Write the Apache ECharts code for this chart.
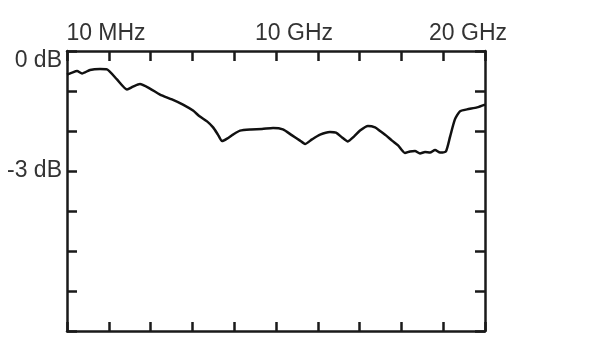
<!DOCTYPE html>
<html>
<head>
<meta charset="utf-8">
<script src="https://cdn.jsdelivr.net/npm/echarts@6/dist/echarts.min.js"></script>
<style>html,body{margin:0;padding:0;background:#fff;}#c{width:600px;height:350px;}</style>
</head>
<body>
<div id="c"></div>
<script>
// frequency in GHz (10 MHz ~ 0)
var freqGHz = [0, 0.24, 0.48, 0.72, 1.10, 1.58, 1.91, 2.39, 2.87, 3.16, 3.49, 3.97, 4.45, 5.02, 5.55, 6.03, 6.36, 6.70, 6.99, 7.22, 7.42, 7.66, 7.94, 8.28, 8.76, 9.33, 9.86, 10.33, 10.77, 11.15, 11.39, 11.72, 12.11, 12.58, 12.87, 13.16, 13.44, 13.73, 14.02, 14.40, 14.74, 14.98, 15.26, 15.55, 15.84, 16.17, 16.41, 16.65, 16.89, 17.13, 17.37, 17.61, 17.85, 18.13, 18.33, 18.56, 18.80, 19.14, 19.62, 20.0];
var gainDb = [-0.59, -0.54, -0.50, -0.56, -0.475, -0.45, -0.46, -0.71, -0.96, -0.89, -0.825, -0.94, -1.09, -1.21, -1.34, -1.49, -1.64, -1.76, -1.91, -2.09, -2.25, -2.19, -2.09, -1.99, -1.96, -1.95, -1.925, -1.96, -2.11, -2.24, -2.325, -2.21, -2.09, -2.025, -2.04, -2.16, -2.26, -2.14, -1.99, -1.875, -1.91, -2.00, -2.11, -2.24, -2.36, -2.55, -2.51, -2.50, -2.56, -2.525, -2.54, -2.475, -2.54, -2.51, -2.14, -1.71, -1.51, -1.46, -1.41, -1.34];
var xTickLabels = {0: '10 MHz', 10: '10 GHz', 20: '20 GHz'};
var yTickLabels = {'0': '0 dB', '-3': '-3 dB'};

var chart = echarts.init(document.getElementById('c'), null, {renderer: 'canvas'});
var frameColor = '#1a1a1a';
var lab = {color: '#333', fontFamily: 'Liberation Sans, Arial, sans-serif', fontSize: 23};
var pts = freqGHz.map(function (f, i) { return [f, gainDb[i]]; });

chart.setOption({
  animation: false,
  backgroundColor: '#fff',
  grid: {left: 67, top: 51, width: 418, height: 280, containLabel: false, outerBoundsMode: 'none'},
  xAxis: [{
    type: 'value', position: 'top', min: 0, max: 20, interval: 2,
    axisLine: {show: true, lineStyle: {color: frameColor, width: 2.5}},
    axisTick: {show: true, inside: true, length: 10, lineStyle: {color: frameColor, width: 2.5}},
    splitLine: {show: false},
    axisLabel: {
      show: true, margin: 6, showMinLabel: true, showMaxLabel: true, hideOverlap: false,
      formatter: function (v) {
        if (v === 0) return '{a|' + xTickLabels[0] + '}';
        if (v === 10) return '{b|' + xTickLabels[10] + '}';
        if (v === 20) return '{c|' + xTickLabels[20] + '}';
        return '';
      },
      rich: {
        a: Object.assign({padding: [0, 0, 0, 78]}, lab),
        b: Object.assign({padding: [0, 0, 0, 36]}, lab),
        c: Object.assign({padding: [0, 34, 0, 0]}, lab)
      }
    }
  }, {
    type: 'value', position: 'bottom', min: 0, max: 20, interval: 2,
    axisLine: {show: true, onZero: false, lineStyle: {color: frameColor, width: 2.5}},
    axisTick: {show: true, inside: true, length: 9, lineStyle: {color: frameColor, width: 2.5}},
    splitLine: {show: false},
    axisLabel: {show: false}
  }],
  yAxis: [{
    type: 'value', position: 'left', min: -7, max: 0, interval: 1,
    axisLine: {show: true, onZero: false, lineStyle: {color: frameColor, width: 2.5}},
    axisTick: {show: true, inside: true, length: 10, lineStyle: {color: frameColor, width: 2.5}},
    splitLine: {show: false},
    axisLabel: {
      show: true, margin: 5, showMinLabel: true, showMaxLabel: true,
      formatter: function (v) {
        if (v === 0) return '{t|' + yTickLabels['0'] + '}';
        if (v === -3) return '{m|' + yTickLabels['-3'] + '}';
        return '';
      },
      rich: {
        t: Object.assign({padding: [20, 0, 0, 0]}, lab),
        m: Object.assign({}, lab)
      }
    }
  }, {
    type: 'value', position: 'right', min: -7, max: 0, interval: 1,
    axisLine: {show: true, onZero: false, lineStyle: {color: frameColor, width: 2.5}},
    axisTick: {show: true, inside: true, length: 10, lineStyle: {color: frameColor, width: 2.5}},
    splitLine: {show: false},
    axisLabel: {show: false}
  }],
  series: [{
    type: 'line', xAxisIndex: 0, yAxisIndex: 0, data: pts,
    showSymbol: false, smooth: 0.2,
    lineStyle: {color: '#111', width: 2.5}
  }, {
    type: 'line', xAxisIndex: 1, yAxisIndex: 1, data: pts,
    showSymbol: false, silent: true,
    lineStyle: {opacity: 0, width: 0}
  }]
});
</script>
</body>
</html>
